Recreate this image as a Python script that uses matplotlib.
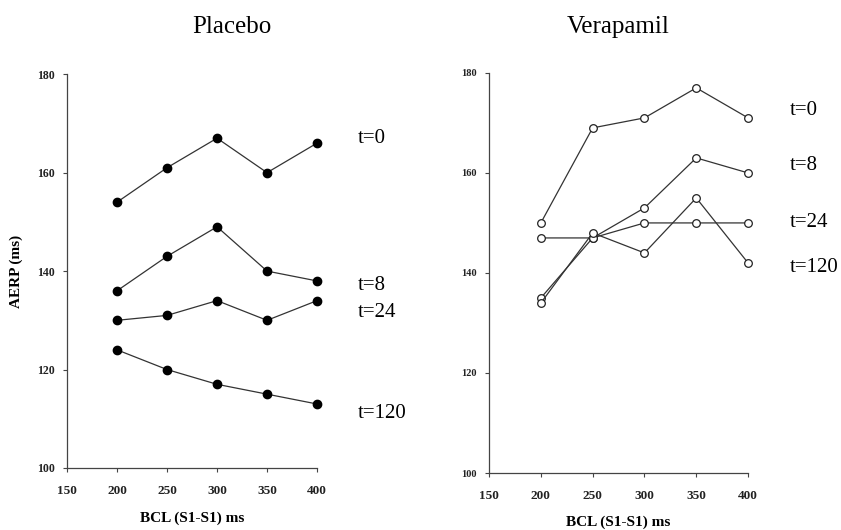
import matplotlib
matplotlib.use("Agg")
import matplotlib.pyplot as plt

# BCL (S1-S1) in ms
bcl = [200, 250, 300, 350, 400]

labels = ["t=0", "t=8", "t=24", "t=120"]

# Placebo AERP (ms)
placebo_t0 = [154, 161, 167, 160, 166]
placebo_t8 = [136, 143, 149, 140, 138]
placebo_t24 = [130, 131, 134, 130, 134]
placebo_t120 = [124, 120, 117, 115, 113]
placebo_label_y = [167, 137, 131.5, 111]

# Verapamil AERP (ms)
verap_t0 = [150, 169, 171, 177, 171]
verap_t8 = [135, 147, 153, 163, 160]
verap_t24 = [147, 147, 150, 150, 150]
verap_t120 = [134, 148, 144, 155, 142]
verap_label_y = [172.5, 161.5, 150, 141]

plt.rcParams["font.family"] = ["Liberation Serif", "DejaVu Serif"]

fig = plt.figure(figsize=(8.41, 5.30), dpi=100)
ax1 = fig.add_axes([0.0797, 0.117, 0.2973, 0.743])
ax2 = fig.add_axes([0.5815, 0.1075, 0.308, 0.755])

line_col = "#333333"


def style_axis(ax, ysize, xpad):
    ax.set_xlim(150, 400)
    ax.set_ylim(100, 180)
    ax.set_xticks([150, 200, 250, 300, 350, 400])
    ax.set_yticks([100, 120, 140, 160, 180])
    for side in ["top", "right"]:
        ax.spines[side].set_visible(False)
    for side in ["left", "bottom"]:
        ax.spines[side].set_color("#444444")
        ax.spines[side].set_linewidth(0.9)
    ax.tick_params(direction="out", length=3, width=0.8, colors="#444444",
                   labelcolor="#222222")
    ax.tick_params(axis="x", labelsize=9.5, pad=9)
    ax.tick_params(axis="y", labelsize=ysize, pad=6)
    for lab in ax.get_xticklabels() + ax.get_yticklabels():
        lab.set_fontweight("bold")
    ax.set_xlabel("BCL (S1-S1) ms", fontsize=11, fontweight="bold", labelpad=xpad)


for ys, ly, lab in zip([placebo_t0, placebo_t8, placebo_t24, placebo_t120], placebo_label_y, labels):
    ax1.plot(bcl, ys, color=line_col, lw=0.9, marker="o", ms=6,
             mfc="black", mec="black", clip_on=False)
    ax1.text(441, ly, lab, fontsize=15, va="center", ha="left", clip_on=False)

for ys, ly, lab in zip([verap_t0, verap_t8, verap_t24, verap_t120], verap_label_y, labels):
    ax2.plot(bcl, ys, color=line_col, lw=0.9, marker="o", ms=5.5,
             mfc="white", mec="#222222", mew=0.9, clip_on=False)
    ax2.text(440, ly, lab, fontsize=15, va="center", ha="left", clip_on=False)

style_axis(ax1, 8.5, 11)
style_axis(ax2, 7.5, 10)
ax1.set_ylabel("AERP (ms)", fontsize=11, fontweight="bold", labelpad=10)

fig.text(232 / 841, 1 - 33 / 530, "Placebo", fontsize=18, ha="center", va="baseline")
fig.text(618 / 841, 1 - 33 / 530, "Verapamil", fontsize=18, ha="center", va="baseline")

fig.savefig("out.png", dpi=100)
